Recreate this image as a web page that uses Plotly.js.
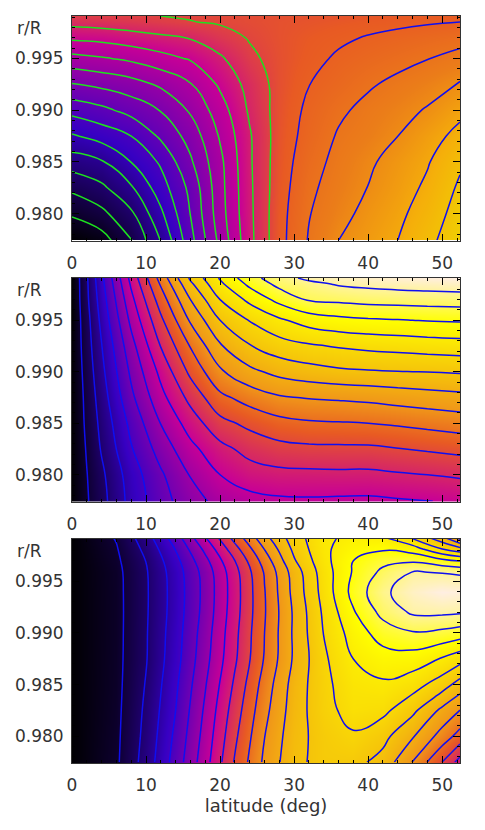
<!DOCTYPE html>
<html>
<head>
<meta charset="utf-8">
<script src="https://cdn.plot.ly/plotly-3.0.1.min.js"></script>
<style>body { margin: 0; background: #fff; }</style>
</head>
<body>
<div id="chart" style="width:485px;height:830px"></div>
<script>
// grids are in contour-level units, rows run from bottom (r/R low) to top
var radius = [0.97742, 0.98, 0.98252, 0.985, 0.98748, 0.99, 0.99252, 0.995, 0.997, 0.99852, 0.9991];
var radius3 = [0.97748, 0.98, 0.98252, 0.985, 0.98748, 0.99, 0.992, 0.99394, 0.99587, 0.997, 0.99813, 0.99916];

var lat1 = [0, 4, 8, 12, 16, 20, 24, 28, 32, 36, 40, 44, 48, 52.4];
var lat2 = [0, 2, 4, 8, 12, 16, 20, 24, 28, 32, 36, 40, 44, 48, 52.4];
var lat3 = [0, 6, 10, 14, 18, 22, 26, 30, 34, 38, 42, 46, 50, 52.4];

var panel1 = [
    [0.05, 0.55, 1.94, 4.05, 6.65, 9.29, 11.72, 13.66, 15.08, 16, 16.5, 17, 17.75, 18.6],
    [1.14, 1.75, 2.82, 4.81, 7.03, 9.57, 11.78, 13.64, 14.95, 15.68, 16.28, 16.79, 17.45, 18.4],
    [2.23, 2.8, 3.89, 5.55, 7.26, 9.66, 11.82, 13.56, 14.79, 15.46, 16.02, 16.56, 17.17, 18.15],
    [3.48, 3.9, 5.02, 6.15, 7.85, 9.76, 11.87, 13.5, 14.58, 15.3, 15.84, 16.38, 16.92, 17.85],
    [4.87, 5.39, 6, 7.17, 8.38, 10.1, 11.9, 13.45, 14.35, 15.1, 15.5, 16, 16.6, 17.3],
    [6.33, 6.75, 7.35, 8.05, 9.13, 10.53, 12.15, 13.4, 14.2, 14.82, 15.28, 15.67, 16.08, 16.75],
    [7.96, 8.25, 8.6, 9.18, 9.95, 11.18, 12.35, 13.35, 13.98, 14.42, 14.87, 15.25, 15.6, 16.08],
    [9.67, 9.9, 10.2, 10.65, 11.1, 11.85, 12.8, 13.36, 13.75, 14.12, 14.4, 14.67, 14.97, 15.3],
    [11.18, 11.3, 11.55, 11.8, 12.05, 12.6, 13.07, 13.4, 13.65, 13.85, 14.06, 14.25, 14.45, 14.68],
    [12.35, 12.45, 12.6, 12.78, 12.97, 13.1, 13.25, 13.4, 13.5, 13.6, 13.7, 13.8, 13.9, 14],
    [12.8, 12.87, 12.93, 13, 13.07, 13.15, 13.25, 13.35, 13.42, 13.48, 13.55, 13.62, 13.7, 13.78]
];

var panel2 = [
    [0.1, 0.9, 1.66, 3.35, 4.6, 5.6, 6.3, 6.65, 6.82, 6.85, 6.82, 6.8, 6.89, 6.97, 7.15],
    [0.1, 0.97, 1.8, 3.5, 4.86, 6.06, 7, 7.55, 7.73, 7.76, 7.79, 7.78, 7.9, 8, 8.14],
    [0.1, 1.08, 2.09, 3.93, 5.42, 6.72, 7.7, 8.34, 8.68, 8.8, 8.82, 8.83, 8.97, 9.12, 9.28],
    [0.1, 1.2, 2.28, 4.28, 6.03, 7.46, 8.7, 9.25, 9.69, 9.88, 9.93, 10, 10.13, 10.29, 10.46],
    [0.1, 1.28, 2.5, 4.78, 6.68, 8.3, 9.75, 10.4, 10.88, 11.05, 11.13, 11.24, 11.4, 11.55, 11.7],
    [0.1, 1.41, 2.74, 5.2, 7.27, 9.23, 10.85, 11.75, 12.3, 12.6, 12.81, 12.91, 12.98, 13.02, 13.1],
    [0.1, 1.55, 2.97, 5.65, 8.05, 10.07, 11.9, 12.95, 13.57, 13.88, 14.1, 14.26, 14.36, 14.47, 14.56],
    [0.1, 1.65, 3.26, 6.25, 8.8, 11.13, 13, 14.05, 14.84, 15.44, 15.73, 15.88, 15.95, 16.05, 16.11],
    [0.1, 1.8, 3.5, 6.73, 9.5, 12, 14, 15.25, 16.3, 17.1, 17.2, 17.35, 17.39, 17.44, 17.49],
    [0.1, 1.85, 3.7, 7.15, 10.12, 12.81, 14.81, 16.23, 17.3, 17.72, 18.1, 18.25, 18.37, 18.45, 18.53],
    [0.1, 1.88, 3.78, 7.33, 10.4, 13.17, 15.1, 16.63, 17.57, 18.25, 18.45, 18.6, 18.75, 18.85, 18.93]
];

var panel3 = [
    [0.05, 0.85, 2.41, 4.43, 6.6, 9.1, 11.2, 12.73, 13.35, 13.3, 12.65, 10.96, 8.98, 7.6],
    [0.05, 0.81, 2.28, 4.22, 6.38, 8.8, 10.98, 12.63, 13.4, 13.88, 13.3, 12.1, 10.6, 9.6],
    [0.05, 0.77, 2.18, 4, 6.17, 8.5, 10.7, 12.5, 13.65, 14.4, 14.27, 13.25, 11.78, 11],
    [0.05, 0.74, 2.06, 3.83, 5.93, 8.18, 10.43, 12.4, 13.72, 14.64, 14.85, 14.44, 13.47, 12.58],
    [0.05, 0.73, 1.94, 3.64, 5.67, 7.85, 10.08, 12.15, 13.82, 15, 15.55, 15.53, 14.91, 14.38],
    [0.05, 0.72, 1.92, 3.55, 5.52, 7.73, 10, 12.17, 14.03, 15.43, 16.48, 16.91, 16.74, 16.51],
    [0.05, 0.72, 1.89, 3.46, 5.37, 7.6, 9.92, 12.16, 14.17, 15.9, 17.31, 18.15, 18.2, 18.12],
    [0.05, 0.73, 1.88, 3.44, 5.32, 7.55, 9.95, 12.32, 14.37, 16.33, 17.8, 18.55, 18.95, 18.85],
    [0.05, 0.75, 1.91, 3.5, 5.4, 7.65, 10.08, 12.45, 14.49, 16.1, 17.24, 18.05, 17.95, 17.85],
    [0.05, 0.83, 2.02, 3.7, 5.73, 8, 10.45, 12.9, 14.67, 16, 16.72, 16.83, 16.3, 15.94],
    [0.05, 0.93, 2.25, 4.05, 6.25, 8.63, 11.03, 13.23, 14.8, 15.58, 15.88, 15.53, 14, 13.33],
    [0.05, 1.06, 2.54, 4.5, 6.9, 9.33, 11.65, 13.49, 14.81, 15.25, 15.2, 13.97, 12.42, 10.8]
];

var tickFont = {family: 'DejaVu Sans', size: 17, color: '#333'};

// top panel never gets past gold, so it has its own stops
var colorsTop = [
    [0, 'rgb(0,0,0)'],
    [0.28, 'rgb(55,0,195)'],
    [0.58, 'rgb(200,0,150)'],
    [0.72, 'rgb(232,90,35)'],
    [0.816, 'rgb(235,125,25)'],
    [0.905, 'rgb(245,175,10)'],
    [1, 'rgb(238,215,0)']
];
var colors = [
    [0, 'rgb(0,0,0)'],
    [0.19, 'rgb(55,0,195)'],
    [0.37, 'rgb(200,0,150)'],
    [0.5, 'rgb(232,90,35)'],
    [0.58, 'rgb(240,150,25)'],
    [0.684, 'rgb(245,195,10)'],
    [0.84, 'rgb(255,255,0)'],
    [1, 'rgb(255,238,230)']
];

function field (x, y, z, zmax, scale, xa, ya) {
    return {type: 'heatmap', x: x, y: y, z: z, zmin: 0, zmax: zmax, zsmooth: 'best',
        colorscale: scale, showscale: false, hoverinfo: 'skip', xaxis: xa, yaxis: ya};
}

function lines (x, y, z, start, end, color, xa, ya) {
    return {type: 'contour', x: x, y: y, z: z, autocontour: false,
        contours: {start: start, end: end, size: 1, coloring: 'none', showlabels: false},
        line: {color: color, width: 1.5, smoothing: 1.3},
        showscale: false, hoverinfo: 'skip', xaxis: xa, yaxis: ya};
}

var blue = 'rgb(15,15,240)';
var data = [
    field(lat1, radius, panel1, 19, colorsTop, 'x', 'y'),
    lines(lat1, radius, panel1, 1, 13, 'rgb(30,225,30)', 'x', 'y'),
    lines(lat1, radius, panel1, 14, 18, blue, 'x', 'y'),
    field(lat2, radius, panel2, 19, colors, 'x2', 'y2'),
    lines(lat2, radius, panel2, 1, 18, blue, 'x2', 'y2'),
    field(lat3, radius3, panel3, 19, colors, 'x3', 'y3'),
    lines(lat3, radius3, panel3, 1, 18, blue, 'x3', 'y3')
];

function xAxis (anchor) {
    return {anchor: anchor, domain: [72 / 485, 460 / 485], range: [0, 52.4], dtick: 10, tick0: 0,
        ticks: 'inside', ticklen: 7, tickwidth: 1, tickcolor: '#000',
        minor: {ticks: 'inside', dtick: 2, ticklen: 3, tickcolor: '#000'},
        showgrid: false, zeroline: false, showline: true, linecolor: '#333', linewidth: 1, mirror: 'allticks',
        tickfont: tickFont, ticklabelstandoff: 7};
}

function yAxis (anchor, top, bottom) {
    return {anchor: anchor, domain: [1 - bottom / 830, 1 - top / 830], range: [0.9774, 0.9991],
        dtick: 0.005, tick0: 0.98, tickformat: '.3f',
        ticks: 'inside', ticklen: 7, tickwidth: 1, tickcolor: '#000',
        minor: {ticks: 'inside', dtick: 0.001, ticklen: 3, tickcolor: '#000'},
        showgrid: false, zeroline: false, showline: true, linecolor: '#333', linewidth: 1, mirror: 'allticks',
        tickfont: tickFont, ticklabelstandoff: 4};
}

function rLabel (y) {
    return {text: 'r/R', xref: 'paper', yref: 'paper', x: 29 / 485, y: 1 - y / 830,
        xanchor: 'center', yanchor: 'middle', showarrow: false,
        font: {family: 'DejaVu Sans', size: 17, color: '#333'}};
}

var xaxis3 = xAxis('y3');
xaxis3.title = {text: 'latitude (deg)', font: {family: 'DejaVu Sans', size: 18, color: '#333'}, standoff: 4};

var layout = {
    width: 485, height: 830,
    margin: {l: 0, r: 0, t: 0, b: 0},
    paper_bgcolor: '#fff', plot_bgcolor: '#fff',
    showlegend: false,
    xaxis: xAxis('y'), yaxis: yAxis('x', 16, 240.5),
    xaxis2: xAxis('y2'), yaxis2: yAxis('x2', 278, 501.5),
    xaxis3: xaxis3, yaxis3: yAxis('x3', 539, 763),
    annotations: [rLabel(28), rLabel(290), rLabel(551)]
};

Plotly.newPlot('chart', data, layout, {displayModeBar: false, staticPlot: true});
</script>
</body>
</html>
